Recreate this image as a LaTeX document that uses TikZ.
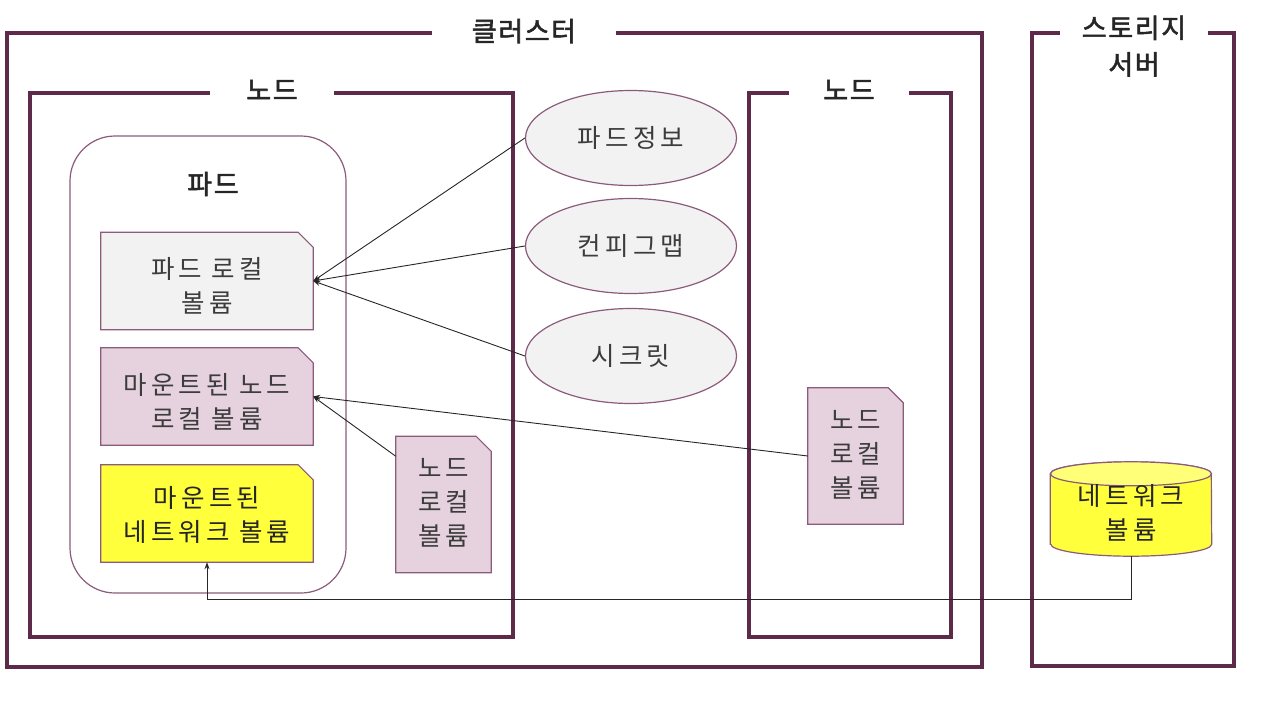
\documentclass[tikz,border=0pt]{standalone}
\usepackage{fontspec}
\setmainfont{Noto Sans CJK KR}
\newfontfamily\krb{Noto Sans CJK KR}[FakeBold=2,LetterSpace=6]
\newfontfamily\krt{Noto Sans CJK KR}[LetterSpace=16]
\usetikzlibrary{backgrounds,arrows.meta,shapes.geometric,calc}
\definecolor{framec}{HTML}{5E2A4A}
\definecolor{thinc}{HTML}{8C5A7A}
\definecolor{pinkf}{HTML}{E6D2DE}
\definecolor{grayf}{HTML}{F2F2F2}
\definecolor{yelf}{HTML}{FFFF3C}
\definecolor{yeltop}{HTML}{FFFF78}
\definecolor{txtc}{HTML}{3C3C3C}
\newcommand\dogear[3]{\begin{scope}[on background layer]\filldraw[thinline,fill=#2] ($(#1.north west)+(0,#3)$) -- ($(#1.north east)+(-15,#3)$) -- ($(#1.north east)+(0,15+#3)$) -- ($(#1.south east)+(0,#3)$) -- ($(#1.south west)+(0,#3)$) -- cycle;\end{scope}}
\begin{document}
\begin{tikzpicture}[x=1pt,y=-1pt,
  frameline/.style={draw=framec,line width=3.5pt},
  thinline/.style={draw=thinc,line width=1.2pt},
  flabel/.style={fill=white,inner ysep=2pt,font=\krb\fontsize{27}{36.5}\selectfont,text=black!85,align=center},
  body/.style={font=\krt\fontsize{25.5}{34}\selectfont,text=txtc,align=center,inner sep=0pt},
  docbox/.style={body,minimum width=212pt,minimum height=97pt},
  smalldoc/.style={body,minimum width=95pt,minimum height=136pt},
  ell/.style={ellipse,thinline,fill=grayf,body,minimum width=211pt,minimum height=95pt},
  conn/.style={draw=black!85,line width=0.9pt,-{Stealth[length=7pt,width=5pt]}}]
\useasboundingbox (0,0) rectangle (1272,702);
% frames
\draw[frameline] (7,33) rectangle (982,667);
\draw[frameline] (30,93) rectangle (513,637);
\draw[frameline] (749,93) rectangle (951,637);
\draw[frameline] (1032,33) rectangle (1234,666);
\node[flabel,inner xsep=40pt] (cl) at (524,31) {클러스터};
\node[flabel,inner xsep=36pt] (n1) at (272,90) {노드};
\node[flabel,inner xsep=34pt] (n2) at (849,90) {노드};
\node[flabel,inner xsep=22pt] (st) at (1134,46) {스토리지\\서버};
% pod
\draw[thinline] (70,136) [rounded corners=45pt] rectangle (346,593);
\node[flabel,fill=none] (pod) at (213,184) {파드};
% volumes
\node[docbox] (plv) at (207,286) {파드 로컬\\볼륨};
\dogear{plv}{grayf}{-5}
\node[docbox] (mlv) at (207,401.5) {마운트된 노드\\로컬 볼륨};
\dogear{mlv}{pinkf}{-5}
\node[docbox,text=black!85] (mnv) at (207,515) {마운트된\\네트워크 볼륨};
\dogear{mnv}{yelf}{-1.5}
\node[smalldoc] (slv) at (443.5,503) {노드\\로컬\\볼륨};
\dogear{slv}{pinkf}{1.5}
\node[smalldoc] (rlv) at (855.5,455) {노드\\로컬\\볼륨};
\dogear{rlv}{pinkf}{1}
% ellipses
\node[ell] (pi) at (631,138) {파드정보};
\node[ell] (cm) at (631,246) {컨피그맵};
\node[ell] (sc) at (631,356) {시크릿};
% network volume cylinder
\node[body,minimum width=161pt,minimum height=86pt,text=black!85] (nv) at (1131,513) {네트워크\\볼륨};
\begin{scope}[on background layer]
\filldraw[thinline,fill=yelf] ($(nv.south west)+(0,-12)$) -- ($(nv.north west)+(0,4)$) arc[start angle=180,end angle=0,x radius=80.5pt,y radius=12pt] -- ($(nv.south east)+(0,-12)$) arc[start angle=0,end angle=-180,x radius=80.5pt,y radius=12pt] -- cycle;
\draw[thinline,fill=yeltop] ($(nv.north)+(0,4)$) ellipse[x radius=80.5pt,y radius=12pt];
\end{scope}
% connectors
\draw[conn] (pi.west) -- ([yshift=5pt]plv.east);
\draw[conn] (cm.west) -- ([yshift=5pt]plv.east);
\draw[conn] (sc.west) -- ([yshift=5pt]plv.east);
\draw[conn] ([yshift=-1pt]rlv.west) -- ([yshift=5pt]mlv.east);
\draw[conn] ($(slv.north west)+(0,21.5)$) -- ([yshift=5pt]mlv.east);
\draw[conn] (nv.south) -- ++(0,43) -| ([yshift=1.5pt]mnv.south);
\end{tikzpicture}
\end{document}
